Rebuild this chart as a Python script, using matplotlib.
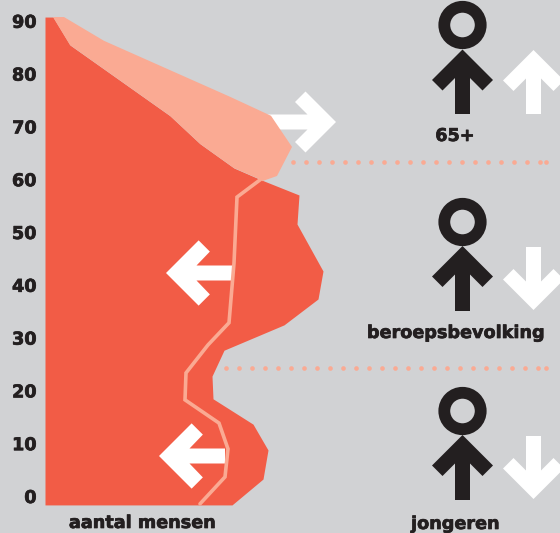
import numpy as np
import matplotlib
matplotlib.use("Agg")
import matplotlib.pyplot as plt
import matplotlib.patheffects as pe
from matplotlib.patches import Polygon, Circle
from matplotlib.transforms import Affine2D, ScaledTranslation

BG, DARK, LIGHT, INK = "#D1D2D4", "#F25C46", "#FAAA93", "#231F20"
FONT = "DejaVu Sans"
HEAVY = [pe.withStroke(linewidth=0.5, foreground=INK)]

# values
tick_ages = [0, 10, 20, 30, 40, 50, 60, 70, 80, 90]
now_age = [90.9, 85.6, 72.2, 66.9, 62.3, 60.0, 57.2, 51.7, 42.8, 37.5, 32.6, 27.8, 22.9, 18.6, 13.8, 8.9, 3.4, -1.5]
now_pop = [8, 25, 125, 155, 189, 217, 254, 252, 278, 273, 239, 179, 167, 168, 208, 223, 218, 187]
future_age = [90.9, 86.4, 75.8, 72.2, 66.3, 60.8, 59.8]
future_pop = [19, 59, 185, 226, 247, 232, 217]
line_age = [60.2, 56.8, 44.3, 33.0, 28.8, 23.5, 18.4, 14.0, 9.1, 3.8, -1.3]
line_pop = [216, 192, 189, 184, 163, 141, 140, 174, 183, 180, 155]
split_ages = [63.4, 24.4]

W, H = 560, 533
fig = plt.figure(figsize=(W / 100, H / 100), dpi=100, facecolor=BG)
ax = fig.add_axes([45 / W, 0, 515 / W, 1], facecolor=BG)
ax.set_xlim(0, 515)
ax.set_ylim((497 - 533) / 5.28, 497 / 5.28)
for s in ax.spines.values():
    s.set_visible(False)
ax.set_xticks([])
ax.set_yticks(tick_ages)
ax.set_yticklabels([str(a) for a in tick_ages], fontsize=12.7, fontweight="bold",
                   color=INK, family=FONT, path_effects=HEAVY)
ax.tick_params(axis="y", length=0, pad=6)
nudge = ScaledTranslation(0, 1 / 100, fig.dpi_scale_trans)
for lab in ax.get_yticklabels():
    lab.set_transform(lab.get_transform() + nudge)

px = Affine2D().scale(1, -1).translate(0, H)  # pixel coordinates, origin at top left


def arrow(tip_x, tip_y, direction, length, scale=1.0, color=INK, z=3):
    a, b, c, t = 30.5 * scale, 20 * scale, 28.5 * scale, 7.5
    local = np.array([(0, 0), (a, a), (b, a + 10.5 * scale), (t, c), (t, length), (-t, length),
                      (-t, c), (-b, a + 10.5 * scale), (-a, a)], float)
    rot = {"up": (1, 0, 0, 1), "down": (1, 0, 0, -1), "left": (0, 1, 1, 0), "right": (0, -1, 1, 0)}[direction]
    x = rot[0] * local[:, 0] + rot[1] * local[:, 1] + tip_x
    y = rot[2] * local[:, 0] + rot[3] * local[:, 1] + tip_y
    ax.add_patch(Polygon(np.c_[x, y], closed=True, fc=color, ec="none", transform=px,
                         zorder=z, clip_on=False))


# white arrows in the chart
arrow(336, 122, "right", 70, color="white", z=1)

# population shapes
ax.fill_betweenx(now_age, 0, now_pop, color=DARK, lw=0, zorder=2)
ax.fill(future_pop + now_pop[:6][::-1], future_age + now_age[:6][::-1], color=LIGHT, lw=0, zorder=2.5)

arrow(166, 273, "left", 66, scale=1.07, color="white", z=3)
arrow(159, 456, "left", 66, scale=1.07, color="white", z=3)

ax.plot(line_pop, line_age, color=LIGHT, lw=2.6, solid_joinstyle="miter", solid_capstyle="round", zorder=4)

# dotted separators
for age, start in zip(split_ages, [247.7, 181]):
    xs = np.append(np.arange(start, 495, 13), 501)
    ax.scatter(xs, np.full(xs.shape, age), s=11, color=LIGHT, lw=0, zorder=1.5, clip_on=False)

# people
for cy, tip, bottom, white_dir, wa, wb in [(25, 49.5, 114, "up", 50, 64),
                                           (222, 246, 311, "down", 310, 63),
                                           (411, 435, 500, "down", 499, 63)]:
    ax.add_patch(Circle((462.5, cy), 18.2, fc="none", ec=INK, lw=11.8 * 0.72, transform=px, zorder=3, clip_on=False))
    arrow(462.5, tip, "up", bottom - tip, color=INK)
    arrow(533.5, wa, white_dir, wb, color="white")

# labels
for x, y, s in [(142.5, 523, "aantal mensen"), (455.5, 524, "jongeren"),
                (456, 333, "beroepsbevolking"), (455, 136, "65+")]:
    fig.text(x / W, 1 - y / H, s, ha="center", va="center", fontsize=12.7, fontweight="bold",
             color=INK, family=FONT, path_effects=HEAVY)

fig.savefig("out.png", dpi=100, facecolor=BG)
